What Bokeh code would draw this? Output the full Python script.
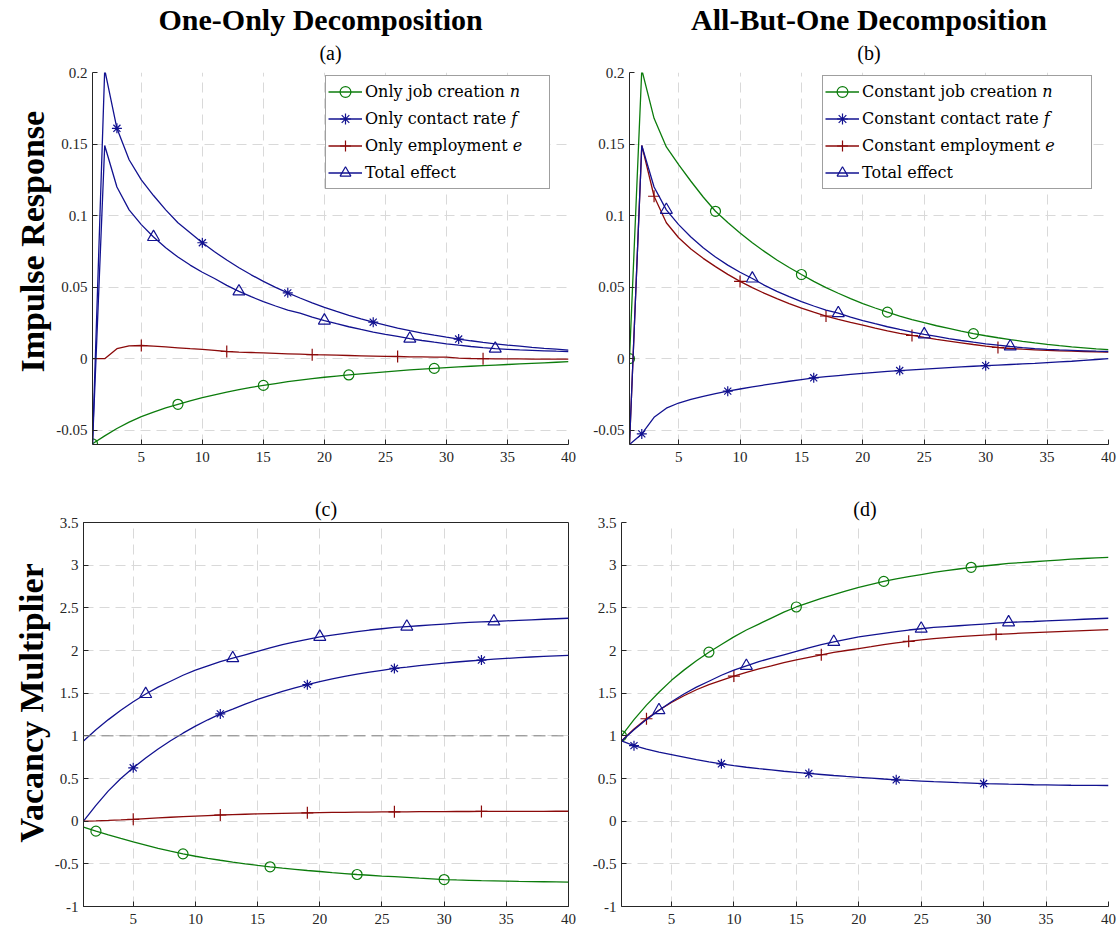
from bokeh.plotting import figure
from bokeh.models import (Range1d, FixedTicker, Legend, LegendItem, Title, Span,
                          ColumnDataSource, CDSView, IndexFilter)
from bokeh.layouts import column, row
from bokeh.embed import file_html
from bokeh.resources import INLINE

# ---------------- data ----------------
periods = list(range(1, 41))
x_ticks = [5, 10, 15, 20, 25, 30, 35, 40]
irf_ticks = [-0.05, 0, 0.05, 0.1, 0.15, 0.2]
irf_tick_labels = ["-0.05", "0", "0.05", "0.1", "0.15", "0.2"]
mult_ticks = [-1, -0.5, 0, 0.5, 1, 1.5, 2, 2.5, 3, 3.5]
mult_tick_labels = ["-1", "-0.5", "0", "0.5", "1", "1.5", "2", "2.5", "3", "3.5"]

only_labels = ["Only job creation 𝑛", "Only contact rate 𝑓", "Only employment 𝑒", "Total effect"]
const_labels = ["Constant job creation 𝑛", "Constant contact rate 𝑓", "Constant employment 𝑒", "Total effect"]

# (a) impulse responses, one-only decomposition
a_job_creation = [-0.0595, -0.054, -0.0488, -0.0444, -0.0405, -0.0373, -0.0344, -0.0319, -0.0295, -0.0273,
                  -0.0253, -0.0234, -0.0217, -0.0201, -0.0187, -0.0174, -0.0161, -0.0150, -0.0139, -0.0130,
                  -0.0122, -0.0114, -0.0106, -0.0099, -0.0092, -0.0085, -0.0079, -0.0073, -0.0068, -0.0063,
                  -0.0058, -0.0053, -0.0049, -0.0045, -0.0041, -0.0037, -0.0033, -0.0029, -0.0025, -0.0021]
a_contact_rate = [-0.06, 0.202, 0.161, 0.139, 0.125, 0.114, 0.104, 0.095, 0.088, 0.081,
                  0.0747, 0.0689, 0.0635, 0.0586, 0.0540, 0.0498, 0.0460, 0.0424, 0.0390, 0.0359,
                  0.0330, 0.0303, 0.0278, 0.0255, 0.0234, 0.0214, 0.0196, 0.0179, 0.0164, 0.0150,
                  0.0137, 0.0125, 0.0114, 0.0104, 0.0095, 0.0087, 0.0079, 0.0072, 0.0066, 0.0060]
a_employment = [0.0, 0.0, 0.0070, 0.0090, 0.0092, 0.0088, 0.0082, 0.0076, 0.0070, 0.0065,
                0.0058, 0.0050, 0.0046, 0.0043, 0.0040, 0.0037, 0.0034, 0.0031, 0.0028, 0.0026,
                0.0024, 0.0022, 0.0020, 0.0018, 0.0016, 0.0015, 0.0013, 0.0012, 0.0011, 0.0010,
                0.0004, 0.0001, 0.0000, -0.0001, -0.0002, -0.0002, -0.0003, -0.0003, -0.0003, -0.0003]
total_irf = [-0.06, 0.149, 0.120, 0.104, 0.0937, 0.0850, 0.0775, 0.0710, 0.0654, 0.0604,
             0.0560, 0.0512, 0.0470, 0.0433, 0.0399, 0.0368, 0.0340, 0.0318, 0.0290, 0.0266,
             0.0244, 0.0223, 0.0204, 0.0186, 0.0170, 0.0155, 0.0140, 0.0127, 0.0115, 0.0104,
             0.0094, 0.0085, 0.0077, 0.0070, 0.0065, 0.0061, 0.0058, 0.0055, 0.0052, 0.0050]

# (b) impulse responses, all-but-one decomposition
b_job_creation = [0.0, 0.202, 0.168, 0.148, 0.1356, 0.124, 0.113, 0.103, 0.0951, 0.0878,
                  0.0810, 0.0748, 0.0690, 0.0637, 0.0588, 0.0540, 0.0497, 0.0457, 0.0420, 0.0385,
                  0.0354, 0.0325, 0.0298, 0.0273, 0.0251, 0.0230, 0.0211, 0.0192, 0.0175, 0.0160,
                  0.0146, 0.0133, 0.0121, 0.0110, 0.0100, 0.0091, 0.0083, 0.0076, 0.0069, 0.0063]
b_contact_rate = [-0.06, -0.0526, -0.041, -0.0346, -0.031, -0.0285, -0.0264, -0.0245, -0.0227, -0.0212,
                  -0.0198, -0.0184, -0.0171, -0.0158, -0.0146, -0.0134, -0.0126, -0.0118, -0.0110, -0.0103,
                  -0.0096, -0.0089, -0.0083, -0.0078, -0.0073, -0.0068, -0.0063, -0.0058, -0.0053, -0.0049,
                  -0.0045, -0.0041, -0.0037, -0.0033, -0.0028, -0.0023, -0.0018, -0.0012, -0.0006, 0.0]
b_employment = [-0.06, 0.149, 0.1135, 0.095, 0.0845, 0.0767, 0.0701, 0.0643, 0.0589, 0.054,
                0.0496, 0.0456, 0.0419, 0.0385, 0.0353, 0.0325, 0.0298, 0.0275, 0.0254, 0.0235,
                0.0214, 0.0194, 0.0177, 0.0162, 0.0148, 0.0135, 0.0123, 0.0111, 0.0099, 0.0088,
                0.0078, 0.0071, 0.0066, 0.0062, 0.0058, 0.0055, 0.0052, 0.0050, 0.0048, 0.0046]

# (c) vacancy multipliers, one-only decomposition
c_job_creation = [-0.07, -0.117, -0.162, -0.203, -0.243, -0.28, -0.318, -0.352, -0.383, -0.411,
                  -0.435, -0.458, -0.48, -0.50, -0.518, -0.535, -0.55, -0.564, -0.578, -0.59,
                  -0.603, -0.614, -0.625, -0.634, -0.643, -0.651, -0.659, -0.668, -0.676, -0.684,
                  -0.689, -0.693, -0.697, -0.700, -0.703, -0.706, -0.708, -0.710, -0.712, -0.714]
c_contact_rate = [0.0, 0.185, 0.355, 0.50, 0.625, 0.74, 0.845, 0.942, 1.031, 1.113,
                  1.188, 1.257, 1.314, 1.372, 1.426, 1.475, 1.521, 1.562, 1.60, 1.635,
                  1.667, 1.696, 1.722, 1.746, 1.768, 1.79, 1.806, 1.823, 1.838, 1.852,
                  1.865, 1.877, 1.888, 1.898, 1.907, 1.916, 1.924, 1.931, 1.937, 1.943]
c_employment = [0.0, 0.004, 0.009, 0.015, 0.022, 0.030, 0.038, 0.046, 0.053, 0.060,
                0.066, 0.072, 0.077, 0.081, 0.085, 0.089, 0.092, 0.095, 0.098, 0.100,
                0.102, 0.104, 0.106, 0.107, 0.108, 0.109, 0.110, 0.111, 0.112, 0.112,
                0.113, 0.113, 0.114, 0.114, 0.115, 0.115, 0.115, 0.115, 0.116, 0.116]
total_mult = [0.94, 1.07, 1.19, 1.30, 1.40, 1.49, 1.57, 1.64, 1.71, 1.77,
              1.82, 1.87, 1.91, 1.95, 1.99, 2.03, 2.07, 2.10, 2.13, 2.16,
              2.18, 2.20, 2.22, 2.24, 2.255, 2.27, 2.28, 2.29, 2.30, 2.31,
              2.32, 2.33, 2.335, 2.34, 2.347, 2.354, 2.36, 2.366, 2.372, 2.378]

# (d) vacancy multipliers, all-but-one decomposition
d_job_creation = [1.00, 1.19, 1.36, 1.51, 1.65, 1.77, 1.88, 1.98, 2.07, 2.16,
                  2.24, 2.31, 2.38, 2.45, 2.51, 2.56, 2.61, 2.655, 2.70, 2.74,
                  2.775, 2.81, 2.84, 2.865, 2.89, 2.915, 2.935, 2.955, 2.975, 2.99,
                  3.005, 3.02, 3.03, 3.04, 3.05, 3.06, 3.07, 3.078, 3.085, 3.092]
d_contact_rate = [0.94, 0.885, 0.845, 0.81, 0.78, 0.75, 0.72, 0.695, 0.672, 0.65,
                  0.632, 0.615, 0.60, 0.585, 0.572, 0.559, 0.547, 0.535, 0.524, 0.514,
                  0.504, 0.494, 0.485, 0.477, 0.47, 0.463, 0.457, 0.451, 0.446, 0.441,
                  0.437, 0.433, 0.43, 0.427, 0.425, 0.423, 0.421, 0.42, 0.419, 0.418]
d_employment = [0.94, 1.08, 1.20, 1.30, 1.39, 1.47, 1.54, 1.60, 1.65, 1.70,
                1.745, 1.785, 1.82, 1.857, 1.89, 1.92, 1.95, 1.977, 2.00, 2.023,
                2.045, 2.07, 2.09, 2.108, 2.124, 2.138, 2.151, 2.162, 2.172, 2.181,
                2.189, 2.196, 2.203, 2.209, 2.215, 2.221, 2.227, 2.233, 2.239, 2.245]

# ---------------- styles ----------------
FONT = "Liberation Serif"
LEGEND_FONT = "DejaVu Serif"
AXIS_COLOR = "#262626"
COLORS = ["#0c7c0c", "#121290", "#8b0a0a", "#121290"]
MARKERS = ["circle", "asterisk", "cross", "triangle"]
MSIZE = [10, 10, 12, 12]
MARKER_STEP = 7
N_MARKERS = 5


def make_panel(series, starts, y_range, ticks, tick_labels, width, height, borders,
               sub_title, main_title=None, main_align="center", main_offset=0,
               ylabel=None, ylabel_offset=0, ylabel_standoff=5,
               legend_labels=None, legend_loc=None, legend_label_width=20,
               boxed=False, ref_line=None):
    left, right, top, bottom = borders
    p = figure(width=width, height=height, x_range=Range1d(1, 40), y_range=Range1d(*y_range),
               output_backend="svg", toolbar_location=None,
               min_border_left=left, min_border_right=right,
               min_border_top=top, min_border_bottom=bottom,
               background_fill_color="white", border_fill_color="white")
    p.outline_line_color = AXIS_COLOR if boxed else None
    p.outline_line_width = 1

    if main_title:
        p.title.text = main_title
        p.title.align = main_align
        p.title.offset = main_offset
        p.title.text_font = FONT
        p.title.text_font_size = "30px"
        p.title.text_font_style = "bold"
        p.title.text_color = "black"
        p.title.standoff = 0
        p.add_layout(Title(text=sub_title, align="center", vertical_align="top", text_font=FONT,
                           text_font_size="20px", text_font_style="normal", text_color="black",
                           standoff=13), "above")
    else:
        p.title.text = sub_title
        p.title.align = "center"
        p.title.text_font = FONT
        p.title.text_font_size = "20px"
        p.title.text_font_style = "normal"
        p.title.text_color = "black"
        p.title.standoff = 5

    p.xaxis.ticker = FixedTicker(ticks=x_ticks)
    p.yaxis.ticker = FixedTicker(ticks=ticks)
    p.yaxis.major_label_overrides = {t: l for t, l in zip(ticks, tick_labels)}
    p.xaxis.major_label_overrides = {t: str(t) for t in x_ticks}
    for ax in (p.xaxis[0], p.yaxis[0]):
        ax.axis_line_color = AXIS_COLOR
        ax.major_tick_line_color = AXIS_COLOR
        ax.major_tick_in = 5
        ax.major_tick_out = 0
        ax.minor_tick_line_color = None
        ax.major_label_text_font = FONT
        ax.major_label_text_font_size = "15px"
        ax.major_label_text_color = AXIS_COLOR
    p.xaxis.major_label_standoff = 7
    p.yaxis.major_label_standoff = 5
    if ylabel:
        p.add_layout(Title(text=ylabel, align="left", offset=ylabel_offset, text_font=FONT,
                           text_font_size="34px", text_font_style="bold", text_color="black",
                           standoff=ylabel_standoff), "left")

    for g in (p.xgrid[0], p.ygrid[0]):
        g.grid_line_color = "#d9d9d9"
        g.grid_line_dash = "10 6"
        g.grid_line_width = 1

    if ref_line is not None:
        p.add_layout(Span(location=ref_line, dimension="width", line_color="#808080",
                          line_dash="12 6", line_width=1))

    items = []
    for k, (vals, start) in enumerate(zip(series, starts)):
        src = ColumnDataSource(dict(x=periods, y=vals))
        lr = p.line("x", "y", source=src, line_color=COLORS[k], line_width=1.3)
        idx = list(range(start - 1, start - 1 + MARKER_STEP * N_MARKERS, MARKER_STEP))
        view = CDSView(filter=IndexFilter(indices=idx))
        sr = p.scatter("x", "y", source=src, view=view, marker=MARKERS[k], size=MSIZE[k],
                       line_color=COLORS[k], fill_color=None, line_width=1.2)
        if legend_labels:
            items.append(LegendItem(label=legend_labels[k], renderers=[lr, sr]))

    if legend_labels:
        leg = Legend(items=items, location=legend_loc,
                     label_text_font=LEGEND_FONT, label_text_font_size="16px", label_text_color="black",
                     glyph_width=34, glyph_height=27, label_height=27, label_standoff=3,
                     label_width=legend_label_width, spacing=0, padding=2,
                     border_line_color="#404040", border_line_width=1,
                     background_fill_color="white", background_fill_alpha=1.0)
        p.add_layout(leg)
    return p


pa = make_panel([a_job_creation, a_contact_rate, a_employment, total_irf], [1, 3, 5, 6],
                (-0.06, 0.2), irf_ticks, irf_tick_labels, 585, 480, (92, 17, 70, 36),
                "(a)", main_title="One-Only Decomposition", main_align="left", main_offset=66,
                ylabel="Impulse Response", ylabel_offset=72, ylabel_standoff=5,
                legend_labels=only_labels, legend_loc=(233, 255), legend_label_width=182)
pb = make_panel([b_job_creation, b_contact_rate, b_employment, total_irf], [1, 2, 3, 4],
                (-0.06, 0.2), irf_ticks, irf_tick_labels, 533, 480, (44, 10, 70, 36),
                "(b)", main_title="All-But-One Decomposition",
                legend_labels=const_labels, legend_loc=(193, 255), legend_label_width=227)
pc = make_panel([c_job_creation, c_contact_rate, c_employment, total_mult], [2, 5, 5, 6],
                (-1, 3.5), mult_ticks, mult_tick_labels, 578, 450, (83, 10, 42, 24),
                "(c)", ylabel="Vacancy Multiplier", ylabel_offset=64, ylabel_standoff=3,
                boxed=True, ref_line=1)
pd_ = make_panel([d_job_creation, d_contact_rate, d_employment, total_mult], [1, 2, 3, 4],
                 (-1, 3.5), mult_ticks, mult_tick_labels, 540, 450, (43, 10, 42, 24),
                 "(d)")

layout = column(row(pa, pb), row(pc, pd_))
open("out.html", "w").write(file_html(layout, INLINE))
